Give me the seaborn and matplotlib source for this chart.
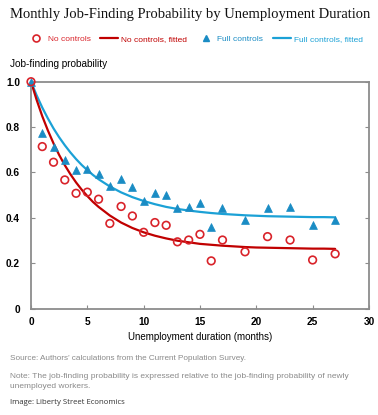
import matplotlib
matplotlib.use("Agg")
import matplotlib.pyplot as plt
import seaborn as sns
import pandas as pd
from matplotlib.lines import Line2D

# ---- data ----
months_obs = [0, 1, 2, 3, 4, 5, 6, 7, 8, 9, 10, 11, 12, 13, 14, 15, 16, 17, 19, 21, 23, 25, 27]
no_controls = [1.0, 0.714, 0.645, 0.567, 0.508, 0.513, 0.482, 0.375, 0.450, 0.408, 0.336, 0.379,
               0.367, 0.294, 0.302, 0.327, 0.210, 0.302, 0.250, 0.317, 0.302, 0.214, 0.241]
full_controls = [1.0, 0.773, 0.714, 0.656, 0.611, 0.614, 0.594, 0.542, 0.570, 0.535, 0.476, 0.508,
                 0.501, 0.441, 0.446, 0.464, 0.361, 0.445, 0.391, 0.445, 0.449, 0.369, 0.391]

months_fit = [0, 0.5, 1, 1.5, 2, 2.5, 3, 3.5, 4, 4.5, 5, 5.5, 6, 7, 8, 9, 10, 11, 12, 13, 14,
              15, 16, 17, 18, 19, 20, 21, 22, 23, 24, 25, 26, 27]
no_controls_fit = [1.000, 0.920, 0.848, 0.785, 0.728, 0.677, 0.632, 0.592, 0.556, 0.524, 0.496,
                   0.470, 0.448, 0.410, 0.379, 0.355, 0.336, 0.321, 0.309, 0.299, 0.292, 0.285,
                   0.281, 0.277, 0.274, 0.271, 0.269, 0.268, 0.267, 0.266, 0.265, 0.264, 0.264, 0.263]
full_controls_fit = [1.000, 0.940, 0.886, 0.838, 0.794, 0.755, 0.720, 0.688, 0.659, 0.633, 0.610,
                     0.589, 0.570, 0.538, 0.512, 0.491, 0.474, 0.460, 0.448, 0.439, 0.432, 0.426,
                     0.421, 0.417, 0.414, 0.411, 0.409, 0.407, 0.406, 0.405, 0.404, 0.403, 0.403, 0.402]

x_ticks = [0, 5, 10, 15, 20, 25, 30]
y_ticks = [0, 0.2, 0.4, 0.6, 0.8, 1.0]
y_tick_labels = ["0", "0.2", "0.4", "0.6", "0.8", "1.0"]

RED_M = "#d9232a"
RED_L = "#c00000"
BLUE_M = "#1a8cc4"
BLUE_L = "#1ba1d6"

obs = pd.DataFrame({"month": months_obs, "nc": no_controls, "fc": full_controls})
fit = pd.DataFrame({"month": months_fit, "nc": no_controls_fit, "fc": full_controls_fit})

sns.set_theme(style="white")
plt.rcParams["font.family"] = ["Liberation Sans", "DejaVu Sans"]

fig = plt.figure(figsize=(3.78, 4.15), dpi=100)
ax = fig.add_axes([0.082, 0.2566, 0.894, 0.5465])

sns.lineplot(data=fit, x="month", y="fc", ax=ax, color=BLUE_L, linewidth=1.6, zorder=2)
sns.lineplot(data=fit, x="month", y="nc", ax=ax, color=RED_L, linewidth=1.6, zorder=2)
sns.scatterplot(data=obs, x="month", y="fc", ax=ax, marker="^", s=32, color=BLUE_M,
                edgecolor=BLUE_M, linewidth=0.5, zorder=3, clip_on=False)
sns.scatterplot(data=obs, x="month", y="nc", ax=ax, marker="o", s=30, facecolor="none",
                edgecolor=RED_M, linewidth=1.2, zorder=4, clip_on=False)

ax.set_xlim(0, 30)
ax.set_ylim(0, 1.0)
ax.set_xticks(x_ticks)
ax.set_yticks(y_ticks)
ax.set_yticklabels(y_tick_labels)
ax.set_xlabel("Unemployment duration (months)", fontsize=7.0, color="#000000", labelpad=4)
ax.set_ylabel("")
for s in ax.spines.values():
    s.set_color("#8c8c8c")
    s.set_linewidth(1.3)
ax.tick_params(axis="both", direction="in", length=3, width=0.8, color="#8c8c8c",
               labelsize=7.3, labelcolor="#000000", top=False, right=True, left=True, bottom=True)
ax.tick_params(axis="y", pad=8)
ax.tick_params(axis="x", pad=6)
for lab in ax.get_xticklabels() + ax.get_yticklabels():
    lab.set_fontweight("bold")

fig.text(0.026, 0.964, "Monthly Job-Finding Probability by Unemployment Duration",
         fontsize=10.5, family=["Liberation Serif", "DejaVu Serif"], color="#111111", va="center")
fig.text(0.026, 0.846, "Job-finding probability", fontsize=7.2, color="#000000", va="center")

handles = [
    Line2D([], [], marker="o", linestyle="none", markerfacecolor="none", markeredgecolor=RED_M,
           markeredgewidth=1.2, markersize=5),
    Line2D([], [], color=RED_L, linewidth=1.6),
    Line2D([], [], marker="^", linestyle="none", color=BLUE_M, markersize=5),
    Line2D([], [], color=BLUE_L, linewidth=1.6),
]
labels = ["No controls", "No controls, fitted", "Full controls", "Full controls, fitted"]
leg = fig.legend(handles, labels, loc="center", bbox_to_anchor=(0.515, 0.906), ncol=4,
                 frameon=False, fontsize=6, handlelength=2.2, handletextpad=0.3,
                 columnspacing=1.15)
for t, c in zip(leg.get_texts(), [RED_M, RED_L, BLUE_M, BLUE_L]):
    t.set_color(c)

fig.text(0.026, 0.137, "Source: Authors\u2019 calculations from the Current Population Survey.",
         fontsize=5.85, color="#8a8a8a", va="center")
fig.text(0.026, 0.0916, "Note: The job-finding probability is expressed relative to the job-finding probability of newly",
         fontsize=6.0, color="#8a8a8a", va="center")
fig.text(0.026, 0.0675, "unemployed workers.", fontsize=6.0, color="#8a8a8a", va="center")
fig.text(0.026, 0.031, "Image: Liberty Street Economics", fontsize=5.6, color="#333333",
         family=["Open Sans", "DejaVu Sans"], va="center")

fig.savefig("out.png", dpi=100)
